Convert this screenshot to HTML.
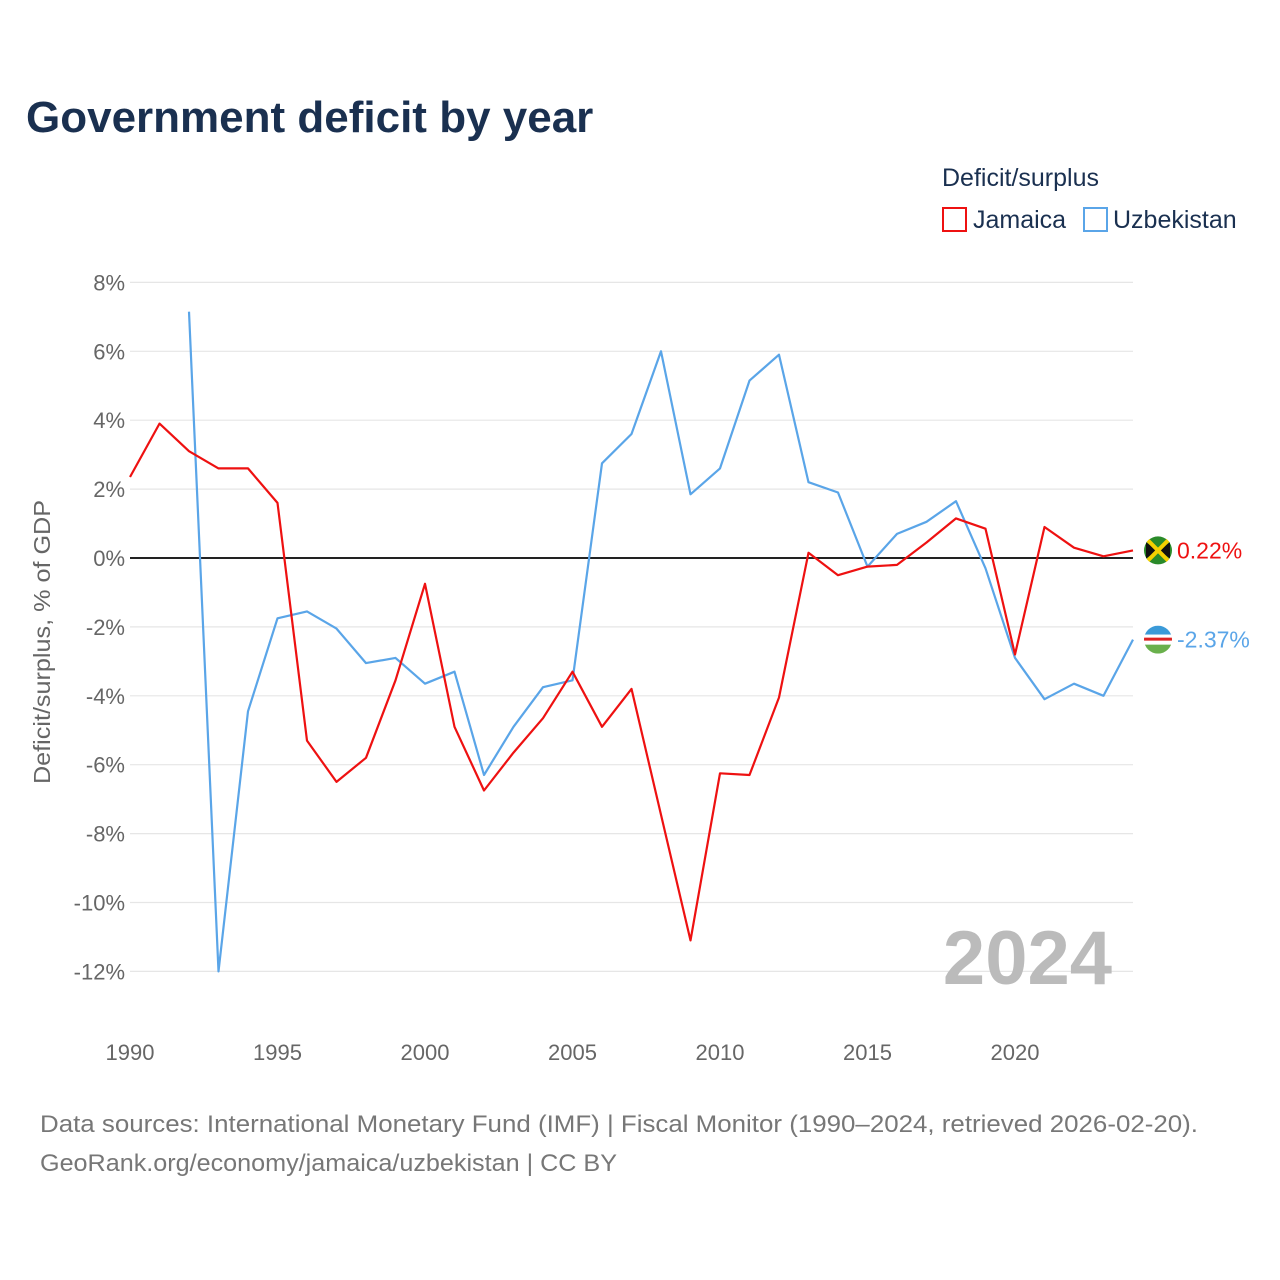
<!DOCTYPE html>
<html><head><meta charset="utf-8">
<style>
body{margin:0;background:#fff;font-family:"Liberation Sans",sans-serif;}
#wrap{position:relative;width:1280px;height:1280px;overflow:hidden;}
</style></head>
<body>
<div id="wrap">
<svg id="chart" width="1280" height="1280" xmlns="http://www.w3.org/2000/svg">
  <text x="26" y="132" font-size="44" font-weight="bold" fill="#1a3050">Government deficit by year</text>
  <text x="942" y="186" font-size="25" fill="#1a3050">Deficit/surplus</text>
  <g>
    <rect x="943" y="208" width="23" height="23" fill="none" stroke="#ee1111" stroke-width="2"/>
    <text x="973" y="228" font-size="25" fill="#1a3050">Jamaica</text>
  </g>
  <g>
    <rect x="1084" y="208" width="23" height="23" fill="none" stroke="#5aa5e8" stroke-width="2"/>
    <text x="1113" y="228" font-size="25" fill="#1a3050">Uzbekistan</text>
  </g>
  <g id="grid"></g>
  <g id="yticks"></g>
  <g id="xticks"></g>
  <text transform="translate(50,642) rotate(-90)" text-anchor="middle" font-size="23" fill="#666" textLength="284" lengthAdjust="spacingAndGlyphs">Deficit/surplus, % of GDP</text>
  <text x="1112" y="984" text-anchor="end" font-size="76" font-weight="bold" fill="#bbb">2024</text>
  <g id="series"></g>
  <text x="40" y="1132" font-size="24" fill="#777" textLength="1158" lengthAdjust="spacingAndGlyphs">Data sources: International Monetary Fund (IMF) | Fiscal Monitor (1990–2024, retrieved 2026-02-20).</text>
  <text x="40" y="1171" font-size="24" fill="#777" textLength="577" lengthAdjust="spacingAndGlyphs">GeoRank.org/economy/jamaica/uzbekistan | CC BY</text>
</svg>
</div>
<script>
const years = [1990,1991,1992,1993,1994,1995,1996,1997,1998,1999,2000,2001,2002,2003,2004,2005,2006,2007,2008,2009,2010,2011,2012,2013,2014,2015,2016,2017,2018,2019,2020,2021,2022,2023,2024];
const jamaica = [2.35,3.9,3.1,2.6,2.6,1.6,-5.3,-6.5,-5.8,-3.55,-0.75,-4.9,-6.75,-5.65,-4.65,-3.3,-4.9,-3.8,-7.45,-11.1,-6.25,-6.3,-4.05,0.15,-0.5,-0.25,-0.2,0.45,1.15,0.85,-2.8,0.9,0.3,0.05,0.22];
const uzbekistan = [null,null,7.15,-12,-4.45,-1.75,-1.55,-2.05,-3.05,-2.9,-3.65,-3.3,-6.3,-4.9,-3.75,-3.55,2.75,3.6,6.0,1.85,2.6,5.15,5.9,2.2,1.9,-0.25,0.7,1.05,1.65,-0.3,-2.9,-4.1,-3.65,-4.0,-2.37];
const yTicks = [8,6,4,2,0,-2,-4,-6,-8,-10,-12];
const xTicks = [1990,1995,2000,2005,2010,2015,2020];

const NS="http://www.w3.org/2000/svg";
const xS = y => 130 + (y-1990)*(1133-130)/34;
const yS = v => 558 - v*34.45;
function mk(tag, attrs, parent){const e=document.createElementNS(NS,tag);for(const k in attrs)e.setAttribute(k,attrs[k]);parent.appendChild(e);return e;}
const grid=document.getElementById('grid'), yt=document.getElementById('yticks'), xt=document.getElementById('xticks'), ser=document.getElementById('series');
yTicks.forEach(t=>{
  const l=mk('line',{x1:130,x2:1133,y1:yS(t),y2:yS(t),stroke:t===0?'#222':'#e6e6e6','stroke-width':t===0?2:1.2},grid);
  
  
  const tx=mk('text',{x:125,y:yS(t)+8,'text-anchor':'end','font-size':22,fill:'#666'},yt);
  tx.textContent=t+'%';
  
  
});
xTicks.forEach(t=>{
  const tx=mk('text',{x:xS(t),y:1060,'text-anchor':'middle','font-size':22,fill:'#666'},xt);
  tx.textContent=t;
  
  
});
function line(vals,color,name){
  let d='';let started=false;
  vals.forEach((v,i)=>{if(v===null)return;d+=(started?'L':'M')+xS(years[i]).toFixed(1)+','+yS(v).toFixed(1);started=true;});
  const p=mk('path',{d:d,fill:'none',stroke:color,'stroke-width':2.2,'stroke-linejoin':'round'},ser);
  
  
}
line(uzbekistan,'#5aa5e8','uzbekistan-line');
line(jamaica,'#ee1111','jamaica-line');
const lj=jamaica[jamaica.length-1], lu=uzbekistan[uzbekistan.length-1];
const fj=mk('g',{},ser);


mk('circle',{cx:1158,cy:yS(lj),r:14,fill:'#2a8a2a'},fj);
mk('path',{d:`M1146,${yS(lj)-8} L1158,${yS(lj)} L1146,${yS(lj)+8}Z M1170,${yS(lj)-8} L1158,${yS(lj)} L1170,${yS(lj)+8}Z`,fill:'#111'},fj);
mk('path',{d:`M1148,${yS(lj)-10} L1168,${yS(lj)+10} M1168,${yS(lj)-10} L1148,${yS(lj)+10}`,stroke:'#f5d000','stroke-width':4},fj);
const tj=mk('text',{x:1177,y:yS(lj)+8,'font-size':23,fill:'#ee1111'},ser);
tj.textContent=lj.toFixed(2)+'%';


const fu=mk('g',{},ser);


const cy=yS(lu);
mk('clipPath',{id:'uzc'},fu);
mk('circle',{cx:1158,cy:cy,r:14},fu.lastChild);
const gg=mk('g',{'clip-path':'url(#uzc)'},fu);
mk('rect',{x:1144,y:cy-14,width:28,height:9,fill:'#3a9ad8'},gg);
mk('rect',{x:1144,y:cy-5,width:28,height:10,fill:'#fff'},gg);
mk('rect',{x:1144,y:cy-2,width:28,height:3,fill:'#d22'},gg);
mk('rect',{x:1144,y:cy+5,width:28,height:9,fill:'#6ab04c'},gg);
const tu=mk('text',{x:1177,y:cy+8,'font-size':23,fill:'#5aa5e8'},ser);
tu.textContent=lu.toFixed(2)+'%';


</script>
</body></html>
